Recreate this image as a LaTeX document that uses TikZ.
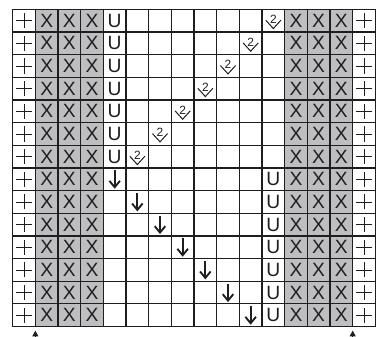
\documentclass[tikz,border=0pt]{standalone}
\usepackage{fontspec}
\usepackage{xcolor}
\usetikzlibrary{arrows.meta}
\newfontfamily\chartfont{Liberation Sans}
\definecolor{cellgray}{RGB}{190,190,192}
\definecolor{inkgray}{RGB}{30,30,30}
\tikzset{
    cell/.style={minimum size=0.6cm, inner sep=0pt, text=inkgray,
        font=\chartfont\fontsize{14.5}{15}\selectfont},
    xcell/.style={cell, fill=cellgray},
    pluscell/.style={cell, path picture={
        \draw[line width=0.6pt, inkgray]
            ([xshift=-0.21cm]path picture bounding box.center) -- ([xshift=0.21cm]path picture bounding box.center)
            ([yshift=-0.2cm]path picture bounding box.center) -- ([yshift=0.2cm]path picture bounding box.center);}},
    deccell/.style={cell, font=\chartfont\fontsize{9}{9}\selectfont, path picture={
        \draw[line width=0.75pt, inkgray, line join=miter]
            ([xshift=-0.2cm,yshift=0.01cm]path picture bounding box.center) -- ([yshift=-0.21cm]path picture bounding box.center)
            -- ([xshift=0.2cm,yshift=0.01cm]path picture bounding box.center);}},
    gridline/.style={line width=0.85pt, inkgray},
    slip/.style={-{Straight Barb[length=1.7mm,width=2.8mm]}, line width=1.4pt, inkgray},
    marker/.style={-{Triangle[length=1.5mm,width=1.6mm]}, line width=0.6pt, inkgray}
}

\begin{document}
\begin{tikzpicture}[x=0.6cm, y=0.6cm]
    \useasboundingbox (-0.56,0.41) rectangle (16.03,-14.45);

    % edge stitches and shaded blocks
    \foreach \r in {0,...,13}{
        \node[pluscell] (p-l-\r) at (0.5,{-\r-0.5}) {};
        \node[pluscell] (p-r-\r) at (15.5,{-\r-0.5}) {};
        \foreach \c in {1,2,3,12,13,14}
            \node[xcell] (x-\c-\r) at ({\c+0.5},{-\r-0.5}) {X};
    }

    % upper part: U on the left, decreases running down to the left
    \foreach \r in {0,...,6}{
        \node[cell] (u-l-\r) at (4.5,{-\r-0.5}) {U};
        \node[deccell] (dec-\r) at ({11.5-\r},{-\r-0.5}) {\raisebox{0.06cm}{2}};
    }

    % lower part: U on the right, slipped stitches running down to the right
    \foreach \r in {7,...,13}{
        \node[cell] (u-r-\r) at (11.5,{-\r-0.5}) {U};
        \node[cell] (down-\r) at ({\r-2.5},{-\r-0.5}) {};
        \draw[slip] ([yshift=0.24cm]down-\r.center) -- ([yshift=-0.25cm]down-\r.center);
    }

    % grid
    \foreach \c in {0,...,16}
        \draw[gridline] (\c,0) -- (\c,-14);
    \foreach \r in {0,...,14}
        \draw[gridline] (0,-\r) -- (16,-\r);

    % marks under the chart
    \coordinate (foot-l) at (1,-14.45);
    \coordinate (tip-l) at (1,-14.18);
    \coordinate (foot-r) at (15,-14.45);
    \coordinate (tip-r) at (15,-14.18);
    \draw[marker] (foot-l) -- (tip-l);
    \draw[marker] (foot-r) -- (tip-r);
\end{tikzpicture}
\end{document}
